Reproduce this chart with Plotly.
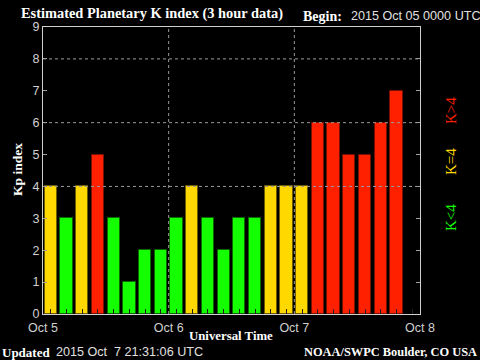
import plotly.graph_objects as go
from datetime import datetime, timedelta

# ---- data ----
start = "2015-10-05 00:00"
kp_values = [4, 3, 4, 5, 3, 1, 2, 2,
             3, 4, 3, 2, 3, 3, 4, 4,
             4, 6, 6, 5, 5, 6, 7]
day_ticks = ["2015-10-05", "2015-10-06", "2015-10-07", "2015-10-08"]
day_labels = ["Oct 5", "Oct 6", "Oct 7", "Oct 8"]
y_ticks = list(range(0, 10))
grid_levels = [4, 6, 8]

t0 = datetime(2015, 10, 5, 0, 0)
times = [t0 + timedelta(hours=3 * i + 1.5) for i in range(len(kp_values))]

GREEN, YELLOW, RED = "#14ff00", "#ffd800", "#ff2000"
GREEN_D, YELLOW_D, RED_D = "#0a6a00", "#6e5c00", "#7a1000"

def col(v):
    return GREEN if v < 4 else (YELLOW if v == 4 else RED)

def dcol(v):
    return GREEN_D if v < 4 else (YELLOW_D if v == 4 else RED_D)

fig = go.Figure()
fig.add_trace(go.Bar(
    x=times, y=kp_values,
    width=3 * 3600 * 1000 * 0.78,
    marker=dict(color=[col(v) for v in kp_values],
                line=dict(color=[dcol(v) for v in kp_values], width=1)),
    hoverinfo="skip",
))

W, H = 480, 360
L, R, T, B = 43, 420, 27, 314

def px(x):
    return (x - L) / (R - L)

def py(y):
    return (B - y) / (B - T)

shapes = []
for lv in grid_levels:
    shapes.append(dict(type="line", xref="paper", yref="y", x0=0, x1=1, y0=lv, y1=lv,
                       line=dict(color="#9a9a9a", width=1, dash="dot"), layer="above"))
for d in day_ticks[1:-1]:
    shapes.append(dict(type="line", xref="x", yref="paper", x0=d, x1=d, y0=0, y1=1,
                       line=dict(color="#9a9a9a", width=1, dash="dot"), layer="above"))

SERIF = "Liberation Serif"
SANS = "Liberation Sans"

def ann(text, x, y, size=12, color="white", family=SERIF, xanchor="left", textangle=0, bold=True):
    t = f"<b>{text}</b>" if bold else text
    return dict(text=t, x=px(x), y=py(y), xref="paper", yref="paper", showarrow=False,
                xanchor=xanchor, yanchor="middle", textangle=textangle,
                font=dict(family=family, size=size, color=color))

annotations = [
    ann("Estimated Planetary K index (3 hour data)", 19, 14, size=14.4),
    ann("Begin:", 301, 16, size=14),
    ann("2015 Oct 05 0000 UTC", 349, 16, size=12.6, color="#e0e0e0", family=SANS, bold=False),
    ann("Kp index", 17, 170, size=13.5, xanchor="center", textangle=-90),
    ann("Universal Time", 231, 336, size=12.8, xanchor="center"),
    ann("Updated", 0, 352, size=13),
    ann("2015 Oct&nbsp;&nbsp;7 21:31:06 UTC", 54, 352, size=12.6, color="#e0e0e0", family=SANS, bold=False),
    ann("NOAA/SWPC Boulder, CO USA", 479, 352, size=12.4, xanchor="right"),
    ann("K&gt;4", 451, 111, size=15, color=RED, xanchor="center", textangle=-90, bold=False),
    ann("K=4", 451, 162, size=15, color=YELLOW, xanchor="center", textangle=-90, bold=False),
    ann("K&lt;4", 451, 218, size=15, color=GREEN, xanchor="center", textangle=-90, bold=False),
]

fig.update_layout(
    width=W, height=H,
    margin=dict(l=L, r=W - R, t=T, b=H - B, pad=0),
    paper_bgcolor="black", plot_bgcolor="black",
    showlegend=False, bargap=0,
    shapes=shapes, annotations=annotations,
    xaxis=dict(
        type="date", range=[day_ticks[0], day_ticks[-1]],
        tickvals=day_ticks, ticktext=day_labels,
        tickfont=dict(family=SANS, size=12.5, color="#d0d0d0"),
        ticks="", showgrid=False, zeroline=False, ticklabelstandoff=2,
        showline=True, linecolor="#d0d0d0", linewidth=1, mirror=True,
        minor=dict(ticks="inside", tick0="2015-10-05 01:30", dtick=3 * 3600 * 1000,
                   ticklen=5, tickcolor="#202020", tickwidth=1, showgrid=False),
        fixedrange=True,
    ),
    yaxis=dict(
        range=[0, 9], tickvals=y_ticks,
        tickfont=dict(family=SANS, size=12.5, color="#d0d0d0"),
        ticks="inside", ticklen=4, tickcolor="#a0a0a0",
        showgrid=False, zeroline=False,
        showline=True, linecolor="#d0d0d0", linewidth=1, mirror="ticks",
        fixedrange=True,
    ),
)

fig.write_html("out.html", config={"displayModeBar": False},
               post_script="document.body.style.margin='0';document.body.style.background='black';")
